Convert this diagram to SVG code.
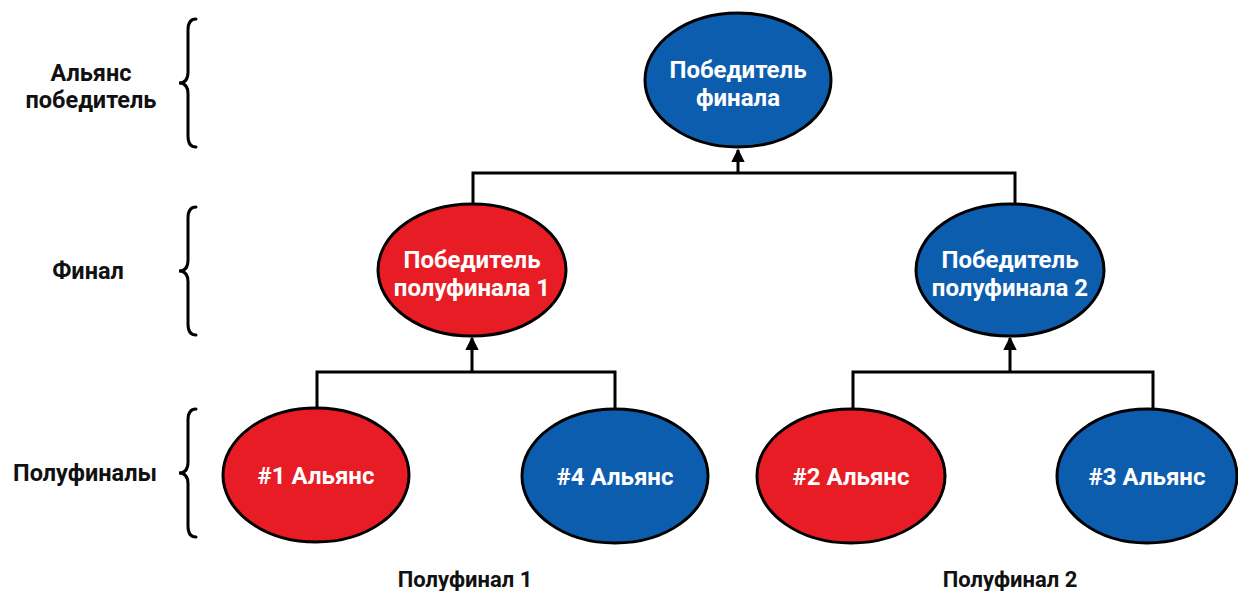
<svg xmlns="http://www.w3.org/2000/svg" width="1238" height="591" viewBox="0 0 1238 591">
<style>
.red{fill:#E81C24;stroke:#000;stroke-width:3}
.blue{fill:#0D5DAF;stroke:#000;stroke-width:3}
.nt{font-family:Roboto,"Liberation Sans",sans-serif;font-weight:bold;font-size:24px;fill:#fff;text-anchor:middle}
.lb{font-family:Roboto,"Liberation Sans",sans-serif;font-weight:bold;font-size:22px;fill:#111;text-anchor:middle}
.lb2{font-size:23.5px}
.ln{fill:none;stroke:#000;stroke-width:3}
.br{fill:none;stroke:#000;stroke-width:3;stroke-linecap:round}
</style>
<defs>
<marker id="ah" viewBox="0 0 10 10" refX="9" refY="5" markerWidth="4.5" markerHeight="4.5" orient="auto">
<path d="M0,0 L10,5 L0,10 z" fill="#000"/>
</marker>
</defs>
<rect width="1238" height="591" fill="#fff"/>
<g id="connectors">
<path class="ln" d="M473,205 V173 H1015 V205"/>
<path class="ln" d="M738,173 V150" marker-end="url(#ah)"/>
<path class="ln" d="M317,408 V372 H615 V408"/>
<path class="ln" d="M472,372 V338" marker-end="url(#ah)"/>
<path class="ln" d="M853,410 V372 H1153 V410"/>
<path class="ln" d="M1010,372 V338" marker-end="url(#ah)"/>
</g>
<g id="brackets">
<path class="br" d="M196,19 Q188,19 188,30 V72 Q188,83 179,83 Q188,83 188,94 V136 Q188,147 196,147"/>
<path class="br" d="M196,207 Q188,207 188,218 V260 Q188,271 179,271 Q188,271 188,282 V324 Q188,335 196,335"/>
<path class="br" d="M196,409 Q188,409 188,420 V462 Q188,473 179,473 Q188,473 188,484 V526 Q188,537 196,537"/>
</g>
<g id="labels">
<text class="lb lb2" x="91" y="81">Альянс</text>
<text class="lb lb2" x="91" y="108">победитель</text>
<text class="lb lb2" x="88" y="279">Финал</text>
<text class="lb lb2" x="85" y="481">Полуфиналы</text>
<text class="lb" x="465" y="587">Полуфинал 1</text>
<text class="lb" x="1010" y="587">Полуфинал 2</text>
</g>
<g id="final-winner">
<ellipse class="blue" cx="738" cy="80" rx="93" ry="67"/>
<text class="nt" x="738" y="78">Победитель</text>
<text class="nt" x="738" y="106">финала</text>
</g>
<g id="sf1-winner">
<ellipse class="red" cx="472" cy="270" rx="94" ry="66"/>
<text class="nt" x="472" y="268">Победитель</text>
<text class="nt" x="472" y="296">полуфинала 1</text>
</g>
<g id="sf2-winner">
<ellipse class="blue" cx="1010" cy="270" rx="94" ry="66"/>
<text class="nt" x="1010" y="268">Победитель</text>
<text class="nt" x="1010" y="296">полуфинала 2</text>
</g>
<g id="a1">
<ellipse class="red" cx="316" cy="475" rx="93" ry="67"/>
<text class="nt" x="316" y="484">#1 Альянс</text>
</g>
<g id="a4">
<ellipse class="blue" cx="615" cy="476" rx="93" ry="67"/>
<text class="nt" x="615" y="485">#4 Альянс</text>
</g>
<g id="a2">
<ellipse class="red" cx="851" cy="476" rx="94" ry="67"/>
<text class="nt" x="851" y="485">#2 Альянс</text>
</g>
<g id="a3">
<ellipse class="blue" cx="1147" cy="476" rx="90" ry="67"/>
<text class="nt" x="1147" y="485">#3 Альянс</text>
</g>
</svg>
